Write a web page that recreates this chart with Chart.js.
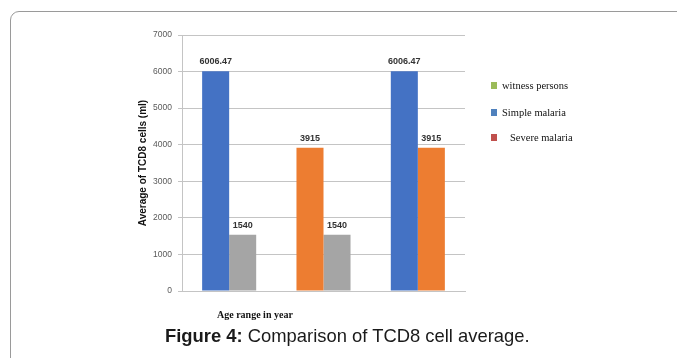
<!DOCTYPE html>
<html>
<head>
<meta charset="utf-8">
<script src="https://cdn.jsdelivr.net/npm/chart.js@4.4.1/dist/chart.umd.min.js"></script>
<style>
  html, body { margin: 0; padding: 0; background: #fff; }
  body { width: 677px; height: 358px; position: relative; overflow: hidden; }
  #frame {
    position: absolute; left: 10px; top: 11px; width: 720px; height: 400px;
    border: 1px solid #9a9a9a; border-top-left-radius: 9px; box-sizing: border-box;
  }
  #chart { position: absolute; left: 0; top: 0; }
  #xtitle {
    position: absolute; left: 217px; top: 309px;
    font: bold 10px "Liberation Serif", serif; color: #111; white-space: nowrap;
  }
  #caption {
    position: absolute; left: 165px; top: 325px;
    font: 18.4px "Liberation Sans", Arial, sans-serif; color: #1a1a1a; white-space: nowrap;
  }
</style>
</head>
<body>
<div id="frame"></div>
<canvas id="chart" width="677" height="358"></canvas>
<div id="xtitle">Age range in year</div>
<div id="caption"><b>Figure 4:</b> Comparison of TCD8 cell average.</div>
<script>
// Three age groups, each showing two of the three series
const categories = ['', '', ''];
const simpleMalaria = [6006.47, null, 6006.47];
const severeMalaria = [null, 3915, 3915];
const witnessPersons = [1540, 1540, null];

// Legend entries as printed beside the plot
const legendLabels = ['witness persons', 'Simple malaria', 'Severe malaria'];
const legendColors = ['#9BBB59', '#4F81BD', '#C0504D'];

const yMax = 7000;
const yStep = 1000;

// Value written above each bar
const barValueLabels = {
  id: 'barValueLabels',
  afterDatasetsDraw(chart) {
    const ctx = chart.ctx;
    ctx.save();
    ctx.font = 'bold 9px "Liberation Sans", Arial, sans-serif';
    ctx.fillStyle = '#333333';
    ctx.textAlign = 'center';
    ctx.textBaseline = 'bottom';
    chart.data.datasets.forEach((ds, i) => {
      const meta = chart.getDatasetMeta(i);
      meta.data.forEach((bar, j) => {
        const v = ds.data[j];
        if (v === null || v === undefined) return;
        ctx.fillText(String(v), bar.x, bar.y - 5);
      });
    });
    ctx.restore();
  }
};

// Legend drawn to the right of the plot area
const sideLegend = {
  id: 'sideLegend',
  afterDraw(chart) {
    const ctx = chart.ctx;
    const area = chart.chartArea;
    const x0 = area.right + 26;
    const rows = [51, 78, 103];
    const indent = [0, 0, 8];
    ctx.save();
    ctx.font = '10.5px "Liberation Serif", "Times New Roman", serif';
    ctx.textBaseline = 'middle';
    ctx.textAlign = 'left';
    legendLabels.forEach((label, i) => {
      const cy = area.top + rows[i];
      ctx.fillStyle = legendColors[i];
      ctx.fillRect(x0, cy - 4, 6, 7);
      ctx.fillStyle = '#111111';
      ctx.fillText(label, x0 + 11 + indent[i], cy);
    });
    ctx.restore();
  }
};

new Chart(document.getElementById('chart'), {
  type: 'bar',
  data: {
    labels: categories,
    datasets: [
      { label: legendLabels[1], data: simpleMalaria, backgroundColor: '#4472C4' },
      { label: legendLabels[2], data: severeMalaria, backgroundColor: '#ED7D31' },
      { label: legendLabels[0], data: witnessPersons, backgroundColor: '#A5A5A5' }
    ]
  },
  options: {
    responsive: false,
    animation: false,
    devicePixelRatio: 1,
    skipNull: true,
    datasets: { bar: { categoryPercentage: 0.573, barPercentage: 1.0, skipNull: true } },
    layout: { padding: { left: 137, top: 35, right: 212, bottom: 67 } },
    plugins: { legend: { display: false }, tooltip: { enabled: false } },
    scales: {
      x: {
        grid: { display: false },
        ticks: { display: false },
        border: { display: true, color: '#c4c4c4' },
        afterFit(scale) { scale.height = 0; }
      },
      y: {
        min: 0,
        max: yMax,
        ticks: {
          stepSize: yStep,
          color: '#595959',
          padding: 6,
          font: { family: '"Liberation Sans", Arial, sans-serif', size: 8.5 },
          callback: (value) => String(value)
        },
        grid: { color: '#c4c4c4', tickLength: 4 },
        border: { display: true, color: '#c4c4c4' },
        title: {
          display: true,
          text: 'Average of TCD8 cells (ml)',
          color: '#111111',
          padding: 0,
          font: { family: '"Liberation Sans", Arial, sans-serif', size: 10, weight: 'bold' }
        },
        afterFit(scale) { scale.width = 45; }
      }
    }
  },
  plugins: [barValueLabels, sideLegend]
});
</script>
</body>
</html>
